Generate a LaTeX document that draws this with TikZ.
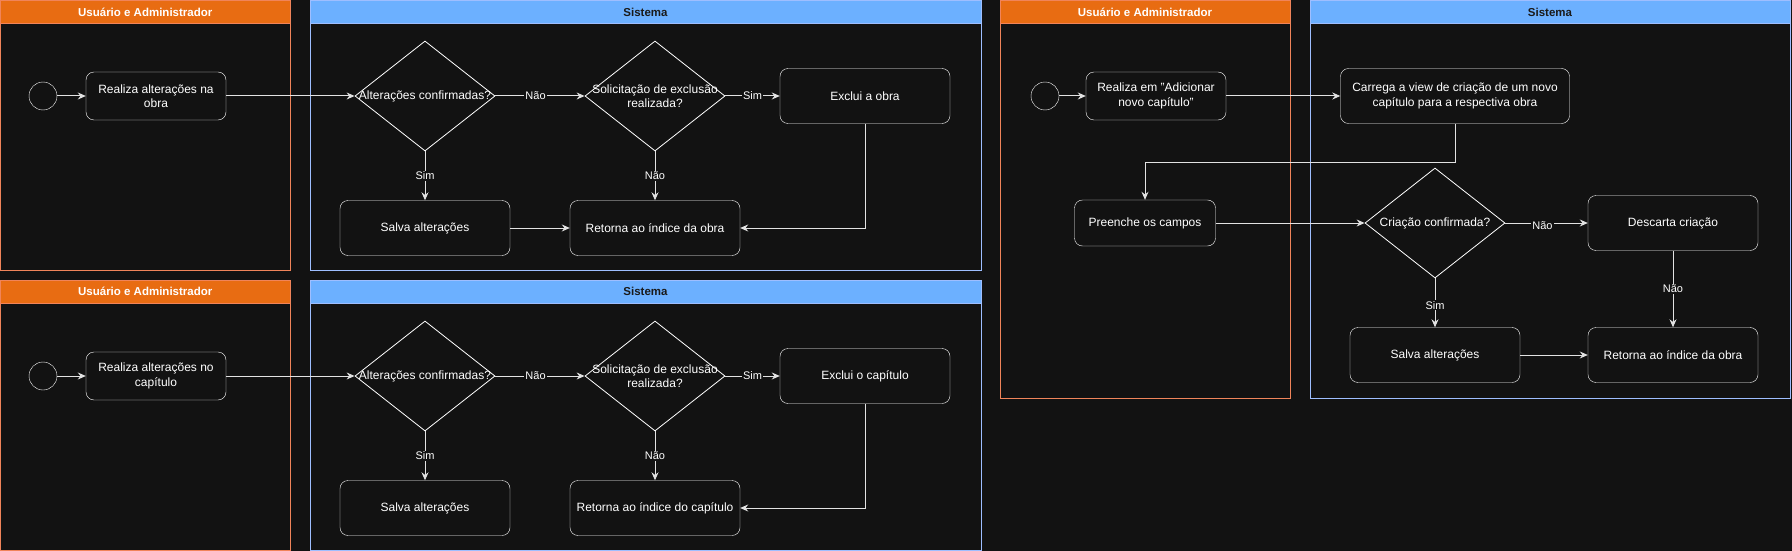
\documentclass[tikz,border=0pt]{standalone}
\usepackage{fontspec}
\setmainfont{Liberation Sans}
\usetikzlibrary{shapes.geometric,arrows.meta}

\definecolor{canvas}{HTML}{121212}
\definecolor{userhead}{HTML}{E86C12}
\definecolor{userline}{HTML}{F0845A}
\definecolor{syshead}{HTML}{6CB0FF}
\definecolor{sysline}{HTML}{9EBEFF}
\definecolor{flowline}{HTML}{E2E2E2}
\definecolor{darktext}{HTML}{1A1A1A}

\tikzset{
  action/.style={draw=white, fill=canvas, rounded corners=8pt, text=white, align=center,
    inner sep=0pt, minimum width=170, minimum height=55, font=\fontsize{12}{14.5}\selectfont},
  smallaction/.style={action, minimum width=140, minimum height=48},
  decision/.style={diamond, draw=white, fill=canvas, inner sep=0pt, line width=0.8pt,
    minimum width=140, minimum height=110},
  dtext/.style={text=white, align=center, inner sep=0pt, font=\fontsize{12}{14.5}\selectfont},
  startnode/.style={circle, draw=white, fill=canvas, minimum size=28, inner sep=0pt},
  flow/.style={draw=flowline, line width=1pt, -{Stealth[length=8pt,width=7pt]}},
  elabel/.style={fill=canvas, text=white, inner sep=1pt, font=\fontsize{11}{13}\selectfont},
  lanetitle/.style={inner sep=0pt, font=\bfseries\fontsize{11.5}{13}\selectfont},
}

% Swimlane: name, x1, y1, x2, y2
\newcommand{\userlane}[5]{%
  \draw[userline, line width=1pt] (#2,#3) rectangle (#4,#5);
  \filldraw[fill=userhead, draw=userline, line width=1pt] (#2,#3) rectangle (#4,{#3+23});
  \node[lanetitle, text=white] (#1) at ({(#2+#4)/2},{#3+11.5}) {Usuário e Administrador};
}
\newcommand{\syslane}[5]{%
  \draw[sysline, line width=1pt] (#2,#3) rectangle (#4,#5);
  \filldraw[fill=syshead, draw=sysline, line width=1pt] (#2,#3) rectangle (#4,{#3+23});
  \node[lanetitle, text=darktext] (#1) at ({(#2+#4)/2},{#3+11.5}) {Sistema};
}

\begin{document}
\begin{tikzpicture}[x=1pt, y=-1pt]

  % Canvas
  \useasboundingbox[fill=canvas] (0,0) rectangle (1792,551);

  %% Edit the work (top left)
  \userlane{ut1}{0.5}{0.5}{290}{270}
  \syslane{sy1}{310}{0.5}{981}{270}

  \node[startnode] (st1) at (43,96) {};
  \node[smallaction] (re1) at (156,96) {Realiza alterações na\\obra};
  \node[decision] (ac1) at (425,96) {};
  \node[dtext] (ac1t) at (ac1) {Alterações confirmadas?};
  \node[decision] (se1) at (655,96) {};
  \node[dtext] (se1t) at (se1) {Solicitação de exclusão\\realizada?};
  \node[action] (ex1) at (865,96) {Exclui a obra};
  \node[action] (sa1) at (425,228) {Salva alterações};
  \node[action] (rt1) at (655,228) {Retorna ao índice da obra};

  \draw[flow] (st1) -- (re1);
  \draw[flow] (re1.east) -- (ac1.west);
  \draw[flow] (ac1.east) -- node[elabel, pos=0.45] (l11) {Não} (se1.west);
  \draw[flow] (se1.east) -- node[elabel] (l12) {Sim} (ex1.west);
  \draw[flow] (ac1.south) -- node[elabel] (l13) {Sim} (sa1.north);
  \draw[flow] (se1.south) -- node[elabel] (l14) {Não} (rt1.north);
  \draw[flow] (sa1.east) -- (rt1.west);
  \draw[flow] (ex1.south) |- (rt1.east);

  %% Edit the chapter (bottom left)
  \begin{scope}[shift={(0,280)}]
    \userlane{ut2}{0.5}{0}{290}{550.5-280}
    \syslane{sy2}{310}{0}{981}{550.5-280}

    \node[startnode] (st2) at (43,96) {};
    \node[smallaction] (re2) at (156,96) {Realiza alterações no\\capítulo};
    \node[decision] (ac2) at (425,96) {};
    \node[dtext] (ac2t) at (ac2) {Alterações confirmadas?};
    \node[decision] (se2) at (655,96) {};
    \node[dtext] (se2t) at (se2) {Solicitação de exclusão\\realizada?};
    \node[action] (ex2) at (865,96) {Exclui o capítulo};
    \node[action] (sa2) at (425,228) {Salva alterações};
    \node[action] (rt2) at (655,228) {Retorna ao índice do capítulo};

    \draw[flow] (st2) -- (re2);
    \draw[flow] (re2.east) -- (ac2.west);
    \draw[flow] (ac2.east) -- node[elabel, pos=0.45] (l21) {Não} (se2.west);
    \draw[flow] (se2.east) -- node[elabel] (l22) {Sim} (ex2.west);
    \draw[flow] (ac2.south) -- node[elabel] (l23) {Sim} (sa2.north);
    \draw[flow] (se2.south) -- node[elabel] (l24) {Não} (rt2.north);
    \draw[flow] (ex2.south) |- (rt2.east);
  \end{scope}

  %% New chapter (right)
  \userlane{ut3}{1000}{0.5}{1290}{398}
  \syslane{sy3}{1310}{0.5}{1790}{398}

  \node[startnode] (st3) at (1045,96) {};
  \node[smallaction] (re3) at (1156,96) {Realiza em \symbol{34}Adicionar\\novo capítulo\symbol{34}};
  \node[action, minimum width=229] (cv3) at (1455,96) {Carrega a view de criação de um novo\\capítulo para a respectiva obra};
  \node[smallaction, minimum width=141, minimum height=46] (pc3) at (1145,223) {Preenche os campos};
  \node[decision] (cc3) at (1435,223) {};
  \node[dtext] (cc3t) at (cc3) {Criação confirmada?};
  \node[action] (dc3) at (1673,223) {Descarta criação};
  \node[action] (sa3) at (1435,355) {Salva alterações};
  \node[action] (rt3) at (1673,355) {Retorna ao índice da obra};

  \draw[flow] (st3) -- (re3);
  \draw[flow] (re3.east) -- (cv3.west);
  \draw[flow] (cv3.south) -- ++(0,39) -| (pc3.north);
  \draw[flow] (pc3.east) -- (cc3.west);
  \draw[flow] (cc3.east) -- node[elabel, pos=0.45, yshift=-3] (l31) {Não} (dc3.west);
  \draw[flow] (cc3.south) -- node[elabel, pos=0.55] (l32) {Sim} (sa3.north);
  \draw[flow] (dc3.south) -- node[elabel, pos=0.5] (l33) {Não} (rt3.north);
  \draw[flow] (sa3.east) -- (rt3.west);
\end{tikzpicture}
\end{document}
